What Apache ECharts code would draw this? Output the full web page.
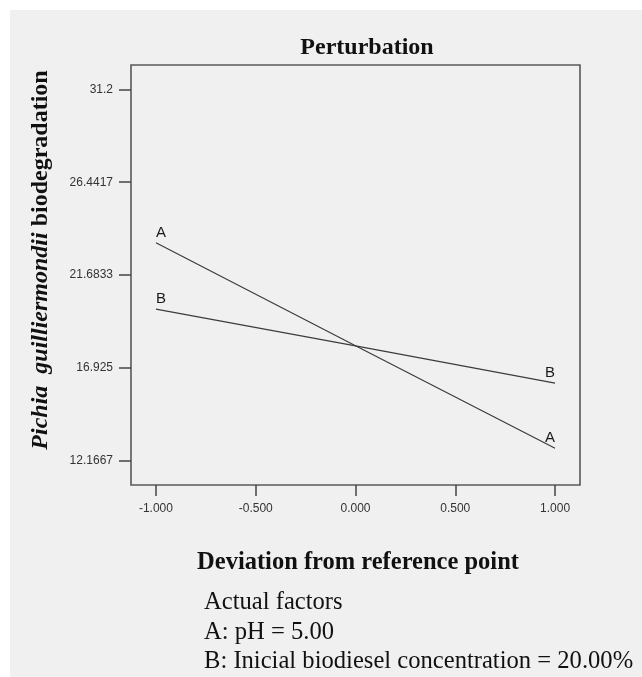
<!DOCTYPE html>
<html>
<head>
<meta charset="utf-8">
<script src="https://cdn.jsdelivr.net/npm/echarts@6/dist/echarts.min.js"></script>
<style>
  html, body { margin: 0; padding: 0; background: #ffffff; }
  #bg { position: absolute; left: 10px; top: 10px; width: 632px; height: 667px; background: #f0f0f0; }
  #chart { position: absolute; left: 0; top: 0; width: 642px; height: 677px; }
</style>
</head>
<body>
<div id="bg"></div>
<div id="chart"></div>
<script>
// ---- data ----
const xValues = [-1, 0, 1];
const seriesA = [23.34, 18.06, 12.80];
const seriesB = [19.94, 18.05, 16.14];
const yTickValues = [12.1667, 16.925, 21.6833, 26.4417, 31.2];
const yTickLabels = ['12.1667', '16.925', '21.6833', '26.4417', '31.2'];
const xTickValues = [-1, -0.5, 0, 0.5, 1];
const xTickLabels = ['-1.000', '-0.500', '0.000', '0.500', '1.000'];
const titleText = 'Perturbation';
const xAxisTitle = 'Deviation from reference point';
const footerLines = ['Actual factors', 'A: pH = 5.00', 'B: Inicial biodiesel concentration = 20.00%'];

const chart = echarts.init(document.getElementById('chart'), null, { renderer: 'canvas' });

function buildSeries(name, vals) {
  const last = vals.length - 1;
  return {
    type: 'line',
    name: name,
    symbol: 'circle',
    symbolSize: 1,
    showSymbol: true,
    itemStyle: { color: 'rgba(0,0,0,0)' },
    lineStyle: { color: '#3c3c3c', width: 1.2 },
    silent: true,
    z: 3,
    data: xValues.map((x, i) => {
      const item = { value: [x, vals[i]] };
      if (i === 0 || i === last) {
        item.label = {
          show: true,
          formatter: name,
          position: 'top',
          align: i === 0 ? 'left' : 'right',
          distance: 2,
          fontFamily: 'Liberation Sans',
          fontSize: 15,
          color: '#1a1a1a'
        };
      }
      return item;
    })
  };
}

function labelFor(vals, labels) {
  return function (v) {
    let best = 0, bd = Infinity;
    vals.forEach((t, i) => { const d = Math.abs(t - v); if (d < bd) { bd = d; best = i; } });
    return labels[best];
  };
}

const serif = 'Liberation Serif';

const option = {
  backgroundColor: 'transparent',
  animation: false,
  title: {
    text: titleText,
    left: 362,
    top: 31,
    textAlign: 'center',
    textStyle: { fontFamily: serif, fontWeight: 'bold', fontSize: 24, color: '#111' }
  },
  grid: {
    left: 131, top: 65, width: 449, height: 420,
    show: true, borderColor: '#595959', borderWidth: 1.6, backgroundColor: 'transparent'
  },
  xAxis: {
    type: 'value',
    min: -1.125, max: 1.125,
    splitLine: { show: false },
    axisLine: { show: false, onZero: false },
    axisTick: { show: true, length: 11, customValues: xTickValues, lineStyle: { color: '#444', width: 1.5 } },
    axisLabel: {
      customValues: xTickValues,
      formatter: labelFor(xTickValues, xTickLabels),
      margin: 18,
      fontFamily: 'Liberation Sans', fontSize: 12, color: '#333'
    }
  },
  yAxis: {
    type: 'value',
    min: 10.92, max: 32.45,
    splitLine: { show: false },
    axisLine: { show: false, onZero: false },
    axisTick: { show: true, length: 12, customValues: yTickValues, lineStyle: { color: '#444', width: 1.5 } },
    axisLabel: {
      customValues: yTickValues,
      formatter: labelFor(yTickValues, yTickLabels),
      margin: 18,
      fontFamily: 'Liberation Sans', fontSize: 12, color: '#333'
    }
  },
  series: [buildSeries('A', seriesA), buildSeries('B', seriesB)],
  graphic: [
    {
      type: 'text',
      x: 41, y: 260,
      rotation: Math.PI / 2,
      style: {
        text: '{i|Pichia  guilliermondii} biodegradation',
        textAlign: 'center',
        textVerticalAlign: 'middle',
        fontFamily: serif, fontWeight: 'bold', fontSize: 24, fill: '#111',
        rich: { i: { fontFamily: serif, fontWeight: 'bold', fontStyle: 'italic', fontSize: 24, color: '#111' } }
      }
    },
    {
      type: 'text',
      x: 358, y: 563,
      style: {
        text: xAxisTitle,
        textAlign: 'center', textVerticalAlign: 'middle',
        fontFamily: serif, fontWeight: 'bold', fontSize: 24.5, fill: '#111'
      }
    },
    {
      type: 'text', x: 204, y: 603,
      style: { text: footerLines[0], textVerticalAlign: 'middle', fontFamily: serif, fontSize: 24.6, fill: '#111' }
    },
    {
      type: 'text', x: 204, y: 633,
      style: { text: footerLines[1], textVerticalAlign: 'middle', fontFamily: serif, fontSize: 24.6, fill: '#111' }
    },
    {
      type: 'text', x: 204, y: 662,
      style: { text: footerLines[2], textVerticalAlign: 'middle', fontFamily: serif, fontSize: 24.6, fill: '#111' }
    }
  ]
};
chart.setOption(option);
</script>
</body>
</html>
